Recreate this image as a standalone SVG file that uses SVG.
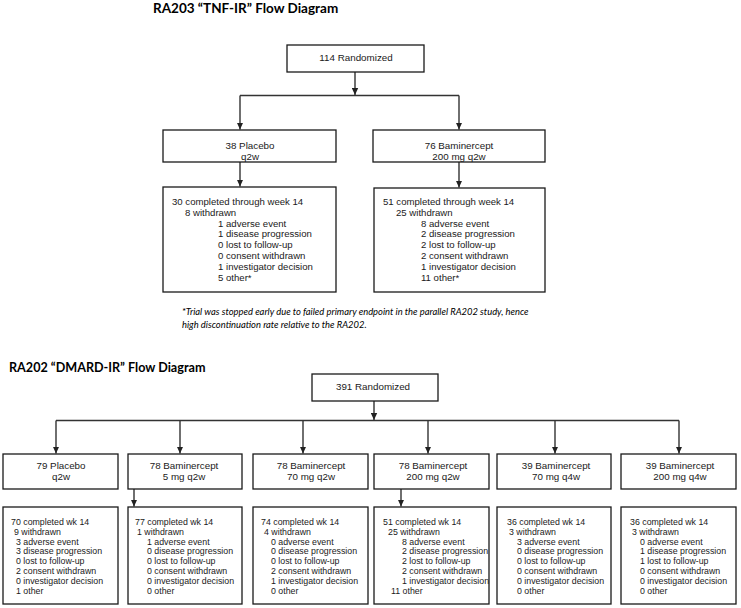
<svg xmlns="http://www.w3.org/2000/svg" width="741" height="608" viewBox="0 0 741 608">
<defs>
<marker id="ah" markerUnits="userSpaceOnUse" markerWidth="7" markerHeight="7" refX="7" refY="3.5" orient="auto">
<path d="M0,0.3 L7,3.5 L0,6.7 z" fill="#222"/>
</marker>
<style>
.bx{fill:#fff;stroke:#1a1a1a;stroke-width:1.3}
.cn{fill:none;stroke:#333;stroke-width:1.4}
.ar{fill:none;stroke:#333;stroke-width:1.4;marker-end:url(#ah)}
.t{font-family:"Liberation Sans",Arial,sans-serif;font-size:9.8px;fill:#1a1a1a}
.c{text-anchor:middle}
.l{font-family:"Liberation Sans",Arial,sans-serif;font-size:9.6px;fill:#1a1a1a}
.s{font-family:"Liberation Sans",Arial,sans-serif;font-size:8.8px;fill:#1a1a1a}
.h{font-family:Lato,"Liberation Sans",sans-serif;font-weight:bold;fill:#000}
.f{font-family:Lato,"Liberation Sans",sans-serif;font-style:italic;font-size:9.4px;fill:#000}
</style>
</defs>
<rect width="741" height="608" fill="#fff"/>
<text class="h" x="153" y="13" font-size="13.5">RA203 “TNF-IR” Flow Diagram</text>
<text class="h" x="9" y="372" font-size="12.6">RA202 “DMARD-IR” Flow Diagram</text>
<g id="connectors">
<line class="ar" x1="355" y1="72" x2="355" y2="95"/>
<polyline class="cn" points="240,95.5 459,95.5"/>
<line class="ar" x1="240" y1="95.5" x2="240" y2="129.5"/>
<line class="ar" x1="459" y1="95.5" x2="459" y2="129.5"/>
<line class="ar" x1="240" y1="162" x2="240" y2="186.5"/>
<line class="ar" x1="459" y1="162" x2="459" y2="187.5"/>
<line class="ar" x1="374" y1="401" x2="374" y2="420"/>
<polyline class="cn" points="56,420.5 679,420.5"/>
<line class="ar" x1="56" y1="420.5" x2="56" y2="453.5"/>
<line class="ar" x1="180" y1="420.5" x2="180" y2="453.5"/>
<line class="ar" x1="303" y1="420.5" x2="303" y2="453.5"/>
<line class="ar" x1="428" y1="420.5" x2="428" y2="453.5"/>
<line class="ar" x1="555" y1="420.5" x2="555" y2="453.5"/>
<line class="ar" x1="679" y1="420.5" x2="679" y2="453.5"/>
<line class="ar" x1="134" y1="489" x2="134" y2="506.5"/>
<line class="ar" x1="401" y1="489" x2="401" y2="506.5"/>
</g>
<g id="n203_rand"><rect class="bx" x="287" y="45" width="137" height="27"/><text class="t c" x="356" y="61">114 Randomized</text></g>
<g id="n203_pbo"><rect class="bx" x="163" y="130" width="173" height="32"/><text class="t c" x="250" y="148.5">38 Placebo</text><text class="t c" x="250" y="159.5">q2w</text></g>
<g id="n203_bam"><rect class="bx" x="373" y="130" width="172" height="32"/><text class="t c" x="459" y="148.5">76 Baminercept</text><text class="t c" x="459" y="159.5">200 mg q2w</text></g>
<g id="n203_pbo_out"><rect class="bx" x="163" y="187" width="173" height="105"/>
<text class="l" x="172" y="205">30 completed through week 14</text>
<text class="l" x="185" y="215.8">8 withdrawn</text>
<text class="l" x="218" y="226.6">1 adverse event</text>
<text class="l" x="218" y="237.4">1 disease progression</text>
<text class="l" x="218" y="248.2">0 lost to follow-up</text>
<text class="l" x="218" y="259">0 consent withdrawn</text>
<text class="l" x="218" y="269.8">1 investigator decision</text>
<text class="l" x="218" y="280.6">5 other*</text>
</g>
<g id="n203_bam_out"><rect class="bx" x="374" y="188" width="171" height="104"/>
<text class="l" x="383" y="205">51 completed through week 14</text>
<text class="l" x="396" y="215.8">25 withdrawn</text>
<text class="l" x="421" y="226.6">8 adverse event</text>
<text class="l" x="421" y="237.4">2 disease progression</text>
<text class="l" x="421" y="248.2">2 lost to follow-up</text>
<text class="l" x="421" y="259">2 consent withdrawn</text>
<text class="l" x="421" y="269.8">1 investigator decision</text>
<text class="l" x="421" y="280.6">11 other*</text>
</g>
<text class="f" x="182" y="315">*Trial was stopped early due to failed primary endpoint in the parallel RA202 study, hence</text>
<text class="f" x="182" y="327.5">high discontinuation rate relative to the RA202.</text>
<g id="n202_rand"><rect class="bx" x="312" y="374" width="126" height="27"/><text class="t c" x="373" y="389.5">391 Randomized</text></g>
<g id="n202_a"><rect class="bx" x="3" y="454" width="115" height="35"/><text class="t c" x="61" y="469">79 Placebo</text><text class="t c" x="61" y="480">q2w</text></g>
<g id="n202_b"><rect class="bx" x="128" y="454" width="114" height="35"/><text class="t c" x="184" y="469">78 Baminercept</text><text class="t c" x="184" y="480">5 mg q2w</text></g>
<g id="n202_c"><rect class="bx" x="253" y="454" width="115" height="35"/><text class="t c" x="311" y="469">78 Baminercept</text><text class="t c" x="311" y="480">70 mg q2w</text></g>
<g id="n202_d"><rect class="bx" x="374" y="454" width="115" height="35"/><text class="t c" x="433" y="469">78 Baminercept</text><text class="t c" x="433" y="480">200 mg q2w</text></g>
<g id="n202_e"><rect class="bx" x="497" y="454" width="114" height="35"/><text class="t c" x="556" y="469">39 Baminercept</text><text class="t c" x="556" y="480">70 mg q4w</text></g>
<g id="n202_f"><rect class="bx" x="621" y="454" width="115" height="35"/><text class="t c" x="680" y="469">39 Baminercept</text><text class="t c" x="680" y="480">200 mg q4w</text></g>
<g id="n202_a_out"><rect class="bx" x="3" y="507" width="115" height="97"/>
<text class="s" x="11" y="525">70 completed wk 14</text>
<text class="s" x="14" y="534.8">9 withdrawn</text>
<text class="s" x="16" y="544.6">3 adverse event</text>
<text class="s" x="16" y="554.4">3 disease progression</text>
<text class="s" x="16" y="564.2">0 lost to follow-up</text>
<text class="s" x="16" y="574">2 consent withdrawn</text>
<text class="s" x="16" y="583.8">0 investigator decision</text>
<text class="s" x="16" y="593.6">1 other</text>
</g>
<g id="n202_b_out"><rect class="bx" x="128" y="507" width="114" height="97"/>
<text class="s" x="135" y="525">77 completed wk 14</text>
<text class="s" x="137" y="534.8">1 withdrawn</text>
<text class="s" x="147" y="544.6">1 adverse event</text>
<text class="s" x="147" y="554.4">0 disease progression</text>
<text class="s" x="147" y="564.2">0 lost to follow-up</text>
<text class="s" x="147" y="574">0 consent withdrawn</text>
<text class="s" x="147" y="583.8">0 investigator decision</text>
<text class="s" x="147" y="593.6">0 other</text>
</g>
<g id="n202_c_out"><rect class="bx" x="253" y="507" width="115" height="97"/>
<text class="s" x="261" y="525">74 completed wk 14</text>
<text class="s" x="264" y="534.8">4 withdrawn</text>
<text class="s" x="271" y="544.6">0 adverse event</text>
<text class="s" x="271" y="554.4">0 disease progression</text>
<text class="s" x="271" y="564.2">0 lost to follow-up</text>
<text class="s" x="271" y="574">2 consent withdrawn</text>
<text class="s" x="271" y="583.8">1 investigator decision</text>
<text class="s" x="271" y="593.6">0 other</text>
</g>
<g id="n202_d_out"><rect class="bx" x="374" y="507" width="115" height="97"/>
<text class="s" x="383" y="525">51 completed wk 14</text>
<text class="s" x="388" y="534.8">25 withdrawn</text>
<text class="s" x="402" y="544.6">8 adverse event</text>
<text class="s" x="402" y="554.4">2 disease progression</text>
<text class="s" x="402" y="564.2">2 lost to follow-up</text>
<text class="s" x="402" y="574">2 consent withdrawn</text>
<text class="s" x="402" y="583.8">1 investigator decision</text>
<text class="s" x="391" y="593.6">11 other</text>
</g>
<g id="n202_e_out"><rect class="bx" x="497" y="507" width="114" height="97"/>
<text class="s" x="507" y="525">36 completed wk 14</text>
<text class="s" x="509" y="534.8">3 withdrawn</text>
<text class="s" x="517" y="544.6">3 adverse event</text>
<text class="s" x="517" y="554.4">0 disease progression</text>
<text class="s" x="517" y="564.2">0 lost to follow-up</text>
<text class="s" x="517" y="574">0 consent withdrawn</text>
<text class="s" x="517" y="583.8">0 investigator decision</text>
<text class="s" x="517" y="593.6">0 other</text>
</g>
<g id="n202_f_out"><rect class="bx" x="621" y="507" width="115" height="97"/>
<text class="s" x="630" y="525">36 completed wk 14</text>
<text class="s" x="632" y="534.8">3 withdrawn</text>
<text class="s" x="640" y="544.6">0 adverse event</text>
<text class="s" x="640" y="554.4">1 disease progression</text>
<text class="s" x="640" y="564.2">1 lost to follow-up</text>
<text class="s" x="640" y="574">0 consent withdrawn</text>
<text class="s" x="640" y="583.8">0 investigator decision</text>
<text class="s" x="640" y="593.6">0 other</text>
</g>
</svg>
